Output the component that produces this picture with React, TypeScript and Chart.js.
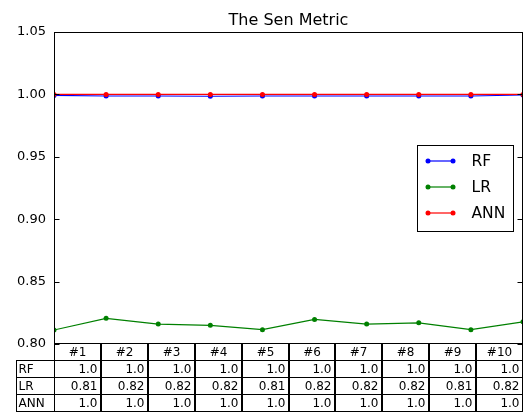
import React, { useEffect, useRef } from "react";
import { Chart, registerables } from "chart.js";

Chart.register(...registerables);

const title = "The Sen Metric";
const categories = ["#1", "#2", "#3", "#4", "#5", "#6", "#7", "#8", "#9", "#10"];
const seriesNames = ["RF", "LR", "ANN"];
const rfValues = [0.9992, 0.9987, 0.9987, 0.9985, 0.9987, 0.9987, 0.9987, 0.9987, 0.9987, 0.9995];
const lrValues = [0.8112, 0.8206, 0.816, 0.815, 0.8115, 0.8197, 0.816, 0.817, 0.8115, 0.8178];
const annValues = [1.0, 1.0, 1.0, 1.0, 1.0, 1.0, 1.0, 1.0, 1.0, 1.0];
const tableRF = ["1.0", "1.0", "1.0", "1.0", "1.0", "1.0", "1.0", "1.0", "1.0", "1.0"];
const tableLR = ["0.81", "0.82", "0.82", "0.82", "0.81", "0.82", "0.82", "0.82", "0.81", "0.82"];
const tableANN = ["1.0", "1.0", "1.0", "1.0", "1.0", "1.0", "1.0", "1.0", "1.0", "1.0"];
const seriesColors = ["#0000ff", "#008000", "#ff0000"];

const FONT = "'DejaVu Sans', sans-serif";

const decorPlugin = {
  id: "decor",
  afterDraw(chart: any) {
    const ctx = chart.ctx as CanvasRenderingContext2D;
    const ca = chart.chartArea;
    const yScale = chart.scales.y;
    ctx.save();
    // frame
    ctx.strokeStyle = "#000";
    ctx.lineWidth = 1;
    const L = Math.round(ca.left) + 0.5;
    const R = Math.round(ca.right) - 0.5;
    const T = Math.round(ca.top) + 0.5;
    const B = Math.round(ca.bottom) - 0.5;
    ctx.strokeRect(L, T, R - L, B - T);
    // inward ticks
    yScale.ticks.forEach((t: any) => {
      const yy = Math.round(yScale.getPixelForValue(t.value)) + 0.5;
      ctx.beginPath();
      ctx.moveTo(L, yy);
      ctx.lineTo(L + 5, yy);
      ctx.moveTo(R, yy);
      ctx.lineTo(R - 5, yy);
      ctx.stroke();
    });
    // title
    ctx.fillStyle = "#000";
    ctx.font = `16px ${FONT}`;
    ctx.textAlign = "center";
    ctx.textBaseline = "alphabetic";
    ctx.fillText(title, (ca.left + ca.right) / 2, 25);

    // legend
    const lw = 96, lh = 86;
    const lx = Math.round(ca.right) - 106 + 0.5;
    const ly = Math.round((ca.top + ca.bottom) / 2 - lh / 2) + 0.5;
    ctx.fillStyle = "#fff";
    ctx.fillRect(lx, ly, lw, lh);
    ctx.strokeStyle = "#000";
    ctx.strokeRect(lx, ly, lw, lh);
    ctx.font = `15.5px ${FONT}`;
    ctx.textAlign = "left";
    ctx.textBaseline = "middle";
    seriesNames.forEach((name, i) => {
      const cy = ly + 15.5 + i * 26;
      const x1 = lx + 10.5, x2 = lx + 35.5;
      ctx.strokeStyle = seriesColors[i];
      ctx.lineWidth = 1.2;
      ctx.beginPath();
      ctx.moveTo(x1, cy);
      ctx.lineTo(x2, cy);
      ctx.stroke();
      ctx.fillStyle = seriesColors[i];
      [x1, x2].forEach((px) => {
        ctx.beginPath();
        ctx.arc(px, cy, 2.5, 0, Math.PI * 2);
        ctx.fill();
      });
      ctx.fillStyle = "#000";
      ctx.fillText(name, lx + 54, cy + 1);
    });

    // table
    const ncol = categories.length;
    const colW = (ca.right - ca.left) / ncol;
    const rowH = 17;
    const top = Math.round(ca.bottom) - 0.5;
    const labelLeft = 16.5;
    ctx.strokeStyle = "#000";
    ctx.lineWidth = 1;
    ctx.font = `12px ${FONT}`;
    // header row
    for (let c = 0; c < ncol; c++) {
      const x0 = Math.round(ca.left + c * colW) + 0.5;
      const x1 = Math.round(ca.left + (c + 1) * colW) - 0.5;
      ctx.strokeRect(x0, top, x1 - x0, rowH);
      ctx.fillStyle = "#000";
      ctx.textAlign = "center";
      ctx.fillText(categories[c], (x0 + x1) / 2, top + rowH / 2 + 0.5);
    }
    const rows = [tableRF, tableLR, tableANN];
    rows.forEach((vals, r) => {
      const y0 = top + rowH * (r + 1);
      const lblRight = Math.round(ca.left) + 0.5;
      ctx.strokeRect(labelLeft, y0, lblRight - labelLeft, rowH);
      ctx.fillStyle = "#000";
      ctx.textAlign = "left";
      ctx.fillText(seriesNames[r], labelLeft + 2, y0 + rowH / 2 + 0.5);
      for (let c = 0; c < ncol; c++) {
        const x0 = Math.round(ca.left + c * colW) + 0.5;
        const x1 = Math.round(ca.left + (c + 1) * colW) - 0.5;
        ctx.strokeRect(x0, y0, x1 - x0, rowH);
        ctx.textAlign = "right";
        ctx.fillText(vals[c], x1 - 3, y0 + rowH / 2 + 0.5);
      }
    });
    ctx.restore();
  },
};

export default function App() {
  const ref = useRef<HTMLCanvasElement>(null);
  useEffect(() => {
    if (!ref.current) return;
    const values = [rfValues, lrValues, annValues];
    const chart = new Chart(ref.current, {
      type: "line",
      data: {
        labels: categories,
        datasets: seriesNames.map((name, i) => ({
          label: name,
          data: values[i],
          borderColor: seriesColors[i],
          backgroundColor: seriesColors[i],
          borderWidth: 1.2,
          pointRadius: 2.5,
          pointBorderWidth: 0,
          pointHoverRadius: 2.5,
          tension: 0,
          fill: false,
          clip: 0,
          order: 3 - i,
        })),
      },
      options: {
        responsive: false,
        animation: false,
        events: [],
        layout: { padding: { left: 0, top: 32, right: 3, bottom: 68 } },
        plugins: {
          legend: { display: false },
          title: { display: false },
          tooltip: { enabled: false },
        },
        scales: {
          x: { type: "category", display: false, offset: false },
          y: {
            min: 0.8,
            max: 1.05,
            afterFit: (s: any) => {
              s.width = 54;
            },
            grid: { display: false, drawTicks: false },
            border: { display: false },
            ticks: {
              stepSize: 0.05,
              padding: 8,
              color: "#000",
              font: { family: FONT, size: 13 },
              callback: (v: any) => Number(v).toFixed(2),
            },
          },
        },
      },
      plugins: [decorPlugin],
    });
    return () => chart.destroy();
  }, []);
  return (
    <div style={{ position: "fixed", left: 0, top: 0, width: 526, height: 412, background: "#fff" }}>
      <canvas ref={ref} width={526} height={412} />
    </div>
  );
}
